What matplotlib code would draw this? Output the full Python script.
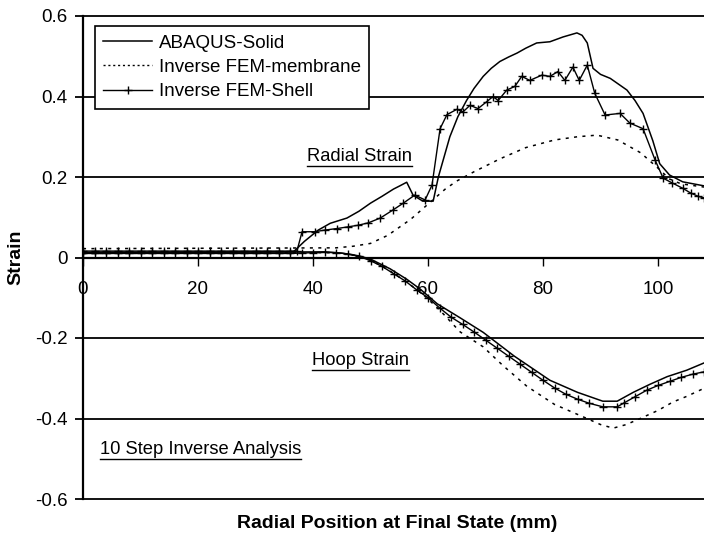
import matplotlib
matplotlib.use("Agg")
import matplotlib.pyplot as plt
from matplotlib.lines import Line2D

plt.rcParams['font.family'] = ['Liberation Sans', 'DejaVu Sans']

# radial strain
rad_solid_x = [0, 36.6, 38.5, 40.9, 43, 45.9, 48, 50, 52, 54, 55.1, 56.3, 57.4, 59.1, 60.9,
               61.8, 63.8, 65.2, 66.7, 68, 69.6, 71, 72.5, 74, 75.5, 77, 78.9, 81.2, 83.5,
               85.9, 86.8, 87.7, 88.7, 90, 91.7, 94.6, 96, 97.4, 99.1, 100.3, 102, 104.3, 108]
rad_solid_y = [0.013, 0.014, 0.04, 0.068, 0.085, 0.098, 0.115, 0.135, 0.152, 0.17, 0.178, 0.187,
               0.155, 0.14, 0.14, 0.2, 0.3, 0.35, 0.39, 0.42, 0.45, 0.47, 0.487, 0.498, 0.508,
               0.52, 0.533, 0.536, 0.548, 0.558, 0.552, 0.533, 0.47, 0.455, 0.445, 0.416, 0.39,
               0.358, 0.29, 0.233, 0.205, 0.188, 0.178]

rad_memb_x = [0, 44, 47, 50, 53, 55, 57, 59, 61, 63, 65, 68, 72.5, 77, 82, 86, 89.4, 93, 97,
              100, 102, 104, 108]
rad_memb_y = [0.022, 0.024, 0.028, 0.035, 0.055, 0.075, 0.095, 0.12, 0.145, 0.17, 0.19, 0.213,
              0.245, 0.273, 0.292, 0.3, 0.304, 0.292, 0.26, 0.222, 0.195, 0.183, 0.175]

rad_shell_x = [0, 2, 4, 6, 8, 10, 12, 14, 16, 18, 20, 22, 24, 26, 28, 30, 32, 34, 36, 37.2,
               38.1, 40.3, 42, 44.2, 46, 47.8, 49.6, 51.7, 53.9, 55.7, 57.7, 59.5, 60.7, 62.1,
               63.3, 65, 66.1, 67.3, 68.7, 70.2, 71.3, 72.2, 73.7, 75.1, 76.3, 77.7, 79.8, 81.2,
               82.6, 83.8, 85.2, 86.3, 87.7, 89, 90.8, 93.4, 95.1, 97.4, 99.5, 100.9, 102.5,
               104.3, 105.7, 107, 108]
rad_shell_y = [0.016, 0.016, 0.016, 0.016, 0.016, 0.016, 0.016, 0.016, 0.016, 0.016, 0.016,
               0.016, 0.016, 0.016, 0.016, 0.016, 0.016, 0.016, 0.016, 0.016,
               0.064, 0.064, 0.068, 0.072, 0.076, 0.08, 0.086, 0.098, 0.118, 0.135, 0.155,
               0.143, 0.18, 0.32, 0.355, 0.368, 0.362, 0.378, 0.37, 0.387, 0.4, 0.39, 0.416,
               0.425, 0.45, 0.44, 0.453, 0.45, 0.462, 0.44, 0.473, 0.44, 0.478, 0.408, 0.354,
               0.358, 0.334, 0.32, 0.242, 0.197, 0.185, 0.172, 0.16, 0.152, 0.148]

# hoop strain
hoop_solid_x = [0, 42, 45, 48, 50, 53.4, 56.3, 58.6, 61.6, 65.6, 69.6, 75, 81.2, 86, 90.4,
                92.9, 95.7, 98.6, 101.6, 105, 108]
hoop_solid_y = [0.012, 0.014, 0.011, 0.004, -0.004, -0.028, -0.054, -0.078, -0.115, -0.15,
                -0.186, -0.245, -0.305, -0.335, -0.357, -0.357, -0.335, -0.315, -0.296,
                -0.28, -0.262]

hoop_memb_x = [0, 44, 47, 50, 53, 56, 59, 62, 65.6, 69.6, 73, 77.2, 82, 87, 90, 92.2, 94.5,
               96.9, 100, 102.6, 105, 108]
hoop_memb_y = [0.01, 0.012, 0.006, -0.006, -0.03, -0.058, -0.09, -0.13, -0.185, -0.222,
               -0.268, -0.32, -0.365, -0.396, -0.415, -0.424, -0.415, -0.4, -0.38, -0.359,
               -0.345, -0.325]

hoop_shell_x = [0, 2, 4, 6, 8, 10, 12, 14, 16, 18, 20, 22, 24, 26, 28, 30, 32, 34, 36, 38,
                40, 42, 44, 46, 48, 50, 52, 54, 56, 58, 60, 62, 64, 66, 68, 70, 72, 74, 76,
                78, 80, 82, 84, 86, 88, 90.4, 92.9, 94, 96, 98, 100, 102, 104, 106, 108]
hoop_shell_y = [0.01, 0.01, 0.01, 0.01, 0.01, 0.01, 0.01, 0.01, 0.01, 0.01, 0.01, 0.01, 0.01,
                0.01, 0.01, 0.01, 0.01, 0.01, 0.01, 0.011, 0.012, 0.013, 0.012, 0.009, 0.003,
                -0.008, -0.022, -0.04, -0.058, -0.08, -0.1, -0.125, -0.148, -0.166, -0.185,
                -0.205, -0.225, -0.245, -0.265, -0.285, -0.305, -0.324, -0.34, -0.352, -0.362,
                -0.371, -0.371, -0.362, -0.346, -0.33, -0.318, -0.308, -0.298, -0.29, -0.284]

series_names = ['ABAQUS-Solid', 'Inverse FEM-membrane', 'Inverse FEM-Shell']
y_ticks = [-0.6, -0.4, -0.2, 0, 0.2, 0.4, 0.6]
x_ticks = [0, 20, 40, 60, 80, 100]

fig = plt.figure(figsize=(7.04, 5.47), dpi=100)
ax = fig.add_axes([83 / 704, 1 - 499 / 547, 621 / 704, 483 / 547])

dot = (0, (2, 3.5))
sty_solid = dict(color='black', lw=1.1)
sty_memb = dict(color='black', lw=1.1, linestyle=dot)
sty_shell = dict(color='black', lw=1.0, marker='+', ms=6, mew=1.0)

ax.plot(rad_solid_x, rad_solid_y, **sty_solid)
ax.plot(rad_memb_x, rad_memb_y, **sty_memb)
ax.plot(rad_shell_x, rad_shell_y, **sty_shell)
ax.plot(hoop_solid_x, hoop_solid_y, **sty_solid)
ax.plot(hoop_memb_x, hoop_memb_y, **sty_memb)
ax.plot(hoop_shell_x, hoop_shell_y, **sty_shell)

for yv in y_ticks:
    if yv != 0:
        ax.axhline(yv, color='black', lw=1.3, clip_on=False, zorder=0)

ax.set_xlim(0, 108)
ax.set_ylim(-0.6, 0.6)
ax.set_xticks(x_ticks)
ax.set_yticks(y_ticks)
ax.set_yticklabels(['-0.6', '-0.4', '-0.2', '0', '0.2', '0.4', '0.6'])

ax.spines['top'].set_visible(False)
ax.spines['right'].set_visible(False)
ax.spines['bottom'].set_position(('data', 0))
ax.spines['bottom'].set_linewidth(1.6)
ax.spines['left'].set_linewidth(1.6)
ax.tick_params(axis='y', direction='out', length=6, width=1.3, pad=5, labelsize=13.5)
ax.tick_params(axis='x', direction='out', length=6, width=1.0, pad=11, labelsize=13.5)

ax.set_xlabel('Radial Position at Final State (mm)', fontsize=14, fontweight='bold', labelpad=0)
ax.xaxis.set_label_coords(0.506, -0.033)
ax.set_ylabel('Strain', fontsize=14, fontweight='bold')
ax.yaxis.set_label_coords(-0.094, 0.5)

handles = [Line2D([], [], **sty_solid),
           Line2D([], [], color='black', lw=1.0, linestyle=(0, (1.5, 2))),
           Line2D([], [], **sty_shell, markevery=[1])]
leg = ax.legend(handles, series_names, loc='upper left', bbox_to_anchor=(0.019, 0.979),
                frameon=True, fancybox=False, edgecolor='black', framealpha=1,
                fontsize=13.5, handlelength=2.6, handletextpad=0.35, borderpad=0.45,
                labelspacing=0.38, borderaxespad=0)
leg.get_frame().set_linewidth(1.2)

notes = [ax.text(48.1, 0.252, 'Radial Strain', fontsize=13.2, ha='center', va='center'),
         ax.text(48.3, -0.255, 'Hoop Strain', fontsize=13.2, ha='center', va='center'),
         ax.text(2.96, -0.478, '10 Step Inverse Analysis', fontsize=13.2, ha='left', va='center')]

# underline the notes
fig.canvas.draw()
W, H = fig.bbox.width, fig.bbox.height
for t in notes:
    bb = t.get_window_extent()
    yl = (bb.y0 - 1) / H
    fig.add_artist(Line2D([bb.x0 / W, bb.x1 / W], [yl, yl], color='black', lw=1.0,
                          transform=fig.transFigure))

fig.savefig('out.png', dpi=100)
